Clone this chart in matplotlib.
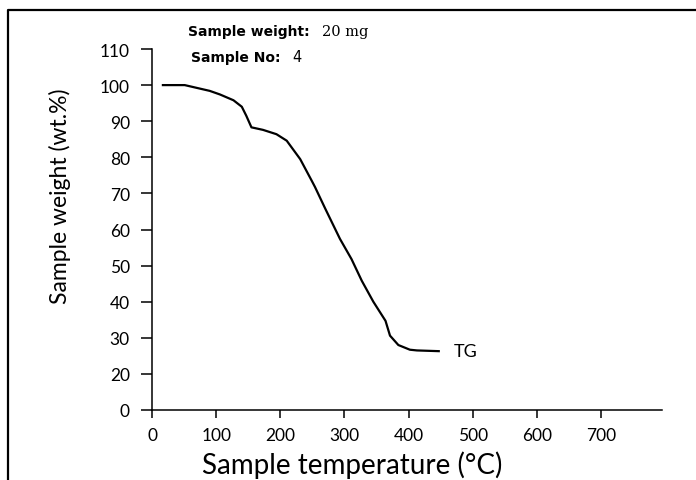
import matplotlib.pyplot as plt
from matplotlib.lines import Line2D

# TG curve (temperature in degC, weight in wt.%)
temp = [17, 51, 90, 106, 127, 140, 147, 155, 173, 194, 210, 231, 249, 254, 270,
        293, 311, 327, 345, 364, 371, 384, 402, 413, 447]
weight = [100, 100, 98.4, 97.4, 95.8, 94, 91.5, 88.3, 87.6, 86.4, 84.6, 79.5, 73.5, 71.8, 65.8,
          57.4, 51.8, 45.8, 40, 34.7, 30.6, 28.0, 26.7, 26.5, 26.3]

x_ticks = [0, 100, 200, 300, 400, 500, 600, 700]
# the original axis has no "10" tick: the bottom tick is labelled 0
y_tick_pos = [10, 20, 30, 40, 50, 60, 70, 80, 90, 100, 110]
y_tick_labels = ['0', '20', '30', '40', '50', '60', '70', '80', '90', '100', '110']

plt.rcParams['font.family'] = ['Lato', 'DejaVu Sans']

fig = plt.figure(figsize=(6.96, 4.81), dpi=100)
ax = fig.add_axes([152 / 696, 1 - 411 / 481, (662 - 152) / 696, (411 - 50) / 481])

ax.plot(temp, weight, color='black', lw=1.6)
ax.text(470, 26.3, 'TG', fontsize=13, va='center', ha='left')

ax.set_xlim(0, 795)
ax.set_ylim(10, 110)
ax.set_xticks(x_ticks)
ax.set_yticks(y_tick_pos)
ax.set_yticklabels(y_tick_labels)

for side in ['top', 'right']:
    ax.spines[side].set_visible(False)
for side in ['left', 'bottom']:
    ax.spines[side].set_linewidth(1.1)
ax.tick_params(axis='y', length=8, width=1.1, labelsize=12.5, pad=8)
ax.tick_params(axis='x', length=6, width=1.1, labelsize=12.5, pad=6)

ax.set_xlabel('Sample temperature (°C)', fontsize=20)
ax.xaxis.set_label_coords((352 - 152) / 510, -(465 - 411) / 361)
ax.xaxis.label.set_va('center')
ax.set_ylabel('Sample weight (wt.%)', fontsize=16.5)
ax.yaxis.set_label_coords(-(152 - 60) / 510, (411 - 196) / 361)
ax.yaxis.label.set_va('center')

# header notes
fig.text(188 / 696, 1 - 32 / 481, 'Sample weight:', fontsize=10, fontweight='bold',
         family='DejaVu Sans', va='center')
fig.text(322 / 696, 1 - 32 / 481, '20 mg', fontsize=10.5, family='DejaVu Serif', va='center')
fig.text(191 / 696, 1 - 58 / 481, 'Sample No:', fontsize=10, fontweight='bold',
         family='DejaVu Sans', va='center')
fig.text(292 / 696, 1 - 58 / 481, '4', fontsize=10.5, family='DejaVu Sans', va='center')

# partial frame round the figure (left and top edges)
fig.add_artist(Line2D([8 / 696, 8 / 696, 1], [0, 1 - 11 / 481, 1 - 11 / 481],
                      transform=fig.transFigure, color='black', lw=1.6))

fig.savefig('out.png', dpi=100)
